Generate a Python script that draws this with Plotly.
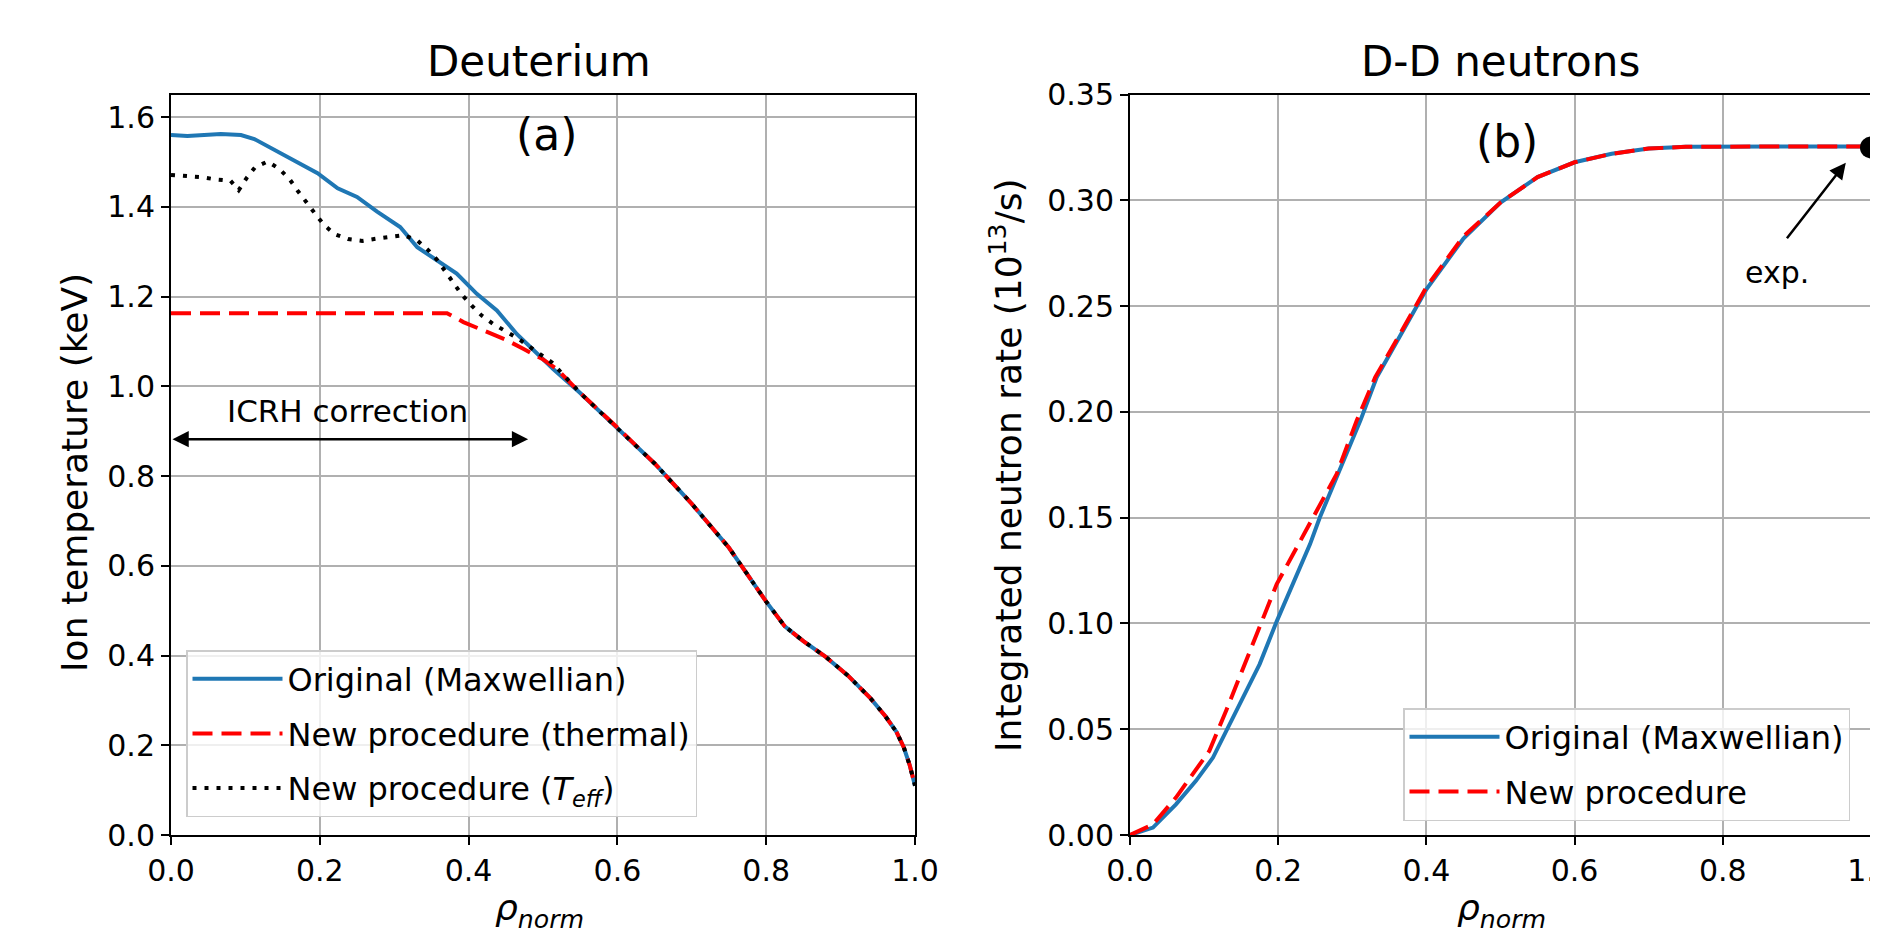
import plotly.graph_objects as go

# ---------------- data: panel (a) Deuterium ion temperature ----------------
rho_orig = [0.0, 0.022, 0.067, 0.094, 0.112, 0.134, 0.165, 0.197, 0.224, 0.25, 0.277, 0.308,
            0.331, 0.358, 0.384, 0.411, 0.438, 0.465, 0.492, 0.514, 0.55, 0.6, 0.65, 0.7, 0.75,
            0.8, 0.825, 0.85, 0.88, 0.91, 0.94, 0.96, 0.975, 0.985, 0.993, 1.0]
ti_orig = [1.560, 1.558, 1.562, 1.560, 1.551, 1.531, 1.504, 1.475, 1.441, 1.422, 1.389, 1.355,
           1.310, 1.281, 1.251, 1.206, 1.169, 1.116, 1.072, 1.038, 0.985, 0.908, 0.828, 0.738,
           0.640, 0.520, 0.465, 0.432, 0.397, 0.355, 0.305, 0.265, 0.230, 0.195, 0.155, 0.110]

rho_thermal = [0.0, 0.371, 0.393, 0.425, 0.451, 0.474, 0.5, 0.519, 0.55, 0.6, 0.65, 0.7, 0.75,
               0.8, 0.825, 0.85, 0.88, 0.91, 0.94, 0.96, 0.975, 0.985, 0.993, 1.0]
ti_thermal = [1.163, 1.163, 1.143, 1.120, 1.103, 1.083, 1.060, 1.038, 0.985, 0.908, 0.828, 0.738,
              0.640, 0.520, 0.465, 0.432, 0.397, 0.355, 0.305, 0.265, 0.230, 0.195, 0.155, 0.110]

rho_teff = [0.0, 0.022, 0.042, 0.06, 0.08, 0.091, 0.102, 0.113, 0.13, 0.146, 0.16, 0.171, 0.182,
            0.194, 0.206, 0.22, 0.238, 0.257, 0.276, 0.294, 0.313, 0.331, 0.346, 0.358, 0.37,
            0.381, 0.391, 0.404, 0.418, 0.433, 0.449, 0.466, 0.482, 0.496, 0.512, 0.55, 0.6,
            0.65, 0.7, 0.75, 0.8, 0.825, 0.85, 0.88, 0.91, 0.94, 0.96, 0.975, 0.985, 0.993, 1.0]
ti_teff = [1.471, 1.469, 1.466, 1.461, 1.458, 1.437, 1.465, 1.488, 1.501, 1.484, 1.460, 1.434,
           1.409, 1.384, 1.359, 1.339, 1.328, 1.324, 1.329, 1.334, 1.337, 1.325, 1.303, 1.281,
           1.254, 1.230, 1.204, 1.180, 1.157, 1.139, 1.124, 1.107, 1.088, 1.072, 1.053, 0.985,
           0.908, 0.828, 0.738, 0.640, 0.520, 0.465, 0.432, 0.397, 0.355, 0.305, 0.265, 0.230,
           0.195, 0.155, 0.110]

# ---------------- data: panel (b) integrated D-D neutron rate ----------------
rho_n_orig = [0.0, 0.031, 0.062, 0.089, 0.112, 0.13, 0.153, 0.175, 0.198, 0.22, 0.243, 0.256,
              0.284, 0.311, 0.333, 0.369, 0.4, 0.45, 0.5, 0.55, 0.6, 0.65, 0.7, 0.75, 0.8,
              0.9, 1.0]
rate_orig = [0.0, 0.0035, 0.0145, 0.0256, 0.0366, 0.049, 0.065, 0.0808, 0.101, 0.1186, 0.1375,
             0.150, 0.173, 0.196, 0.2164, 0.2385, 0.258, 0.282, 0.299, 0.311, 0.318, 0.322,
             0.3245, 0.3253, 0.3255, 0.3255, 0.3255]

rho_n_new = [0.0, 0.031, 0.062, 0.085, 0.107, 0.13, 0.157, 0.175, 0.198, 0.2275, 0.247, 0.279,
             0.306, 0.331, 0.367, 0.4, 0.45, 0.5, 0.55, 0.6, 0.65, 0.7, 0.75, 0.8, 0.9, 1.0]
rate_new = [0.0, 0.005, 0.0177, 0.0287, 0.0397, 0.059, 0.083, 0.099, 0.1186, 0.1375, 0.150,
            0.1707, 0.196, 0.2164, 0.2385, 0.259, 0.283, 0.299, 0.311, 0.318, 0.322, 0.3245,
            0.3253, 0.3255, 0.3255, 0.3255]

exp_rho = [1.0]
exp_rate = [0.325]

x_ticks = [0.0, 0.2, 0.4, 0.6, 0.8, 1.0]
ya_ticks = [0.0, 0.2, 0.4, 0.6, 0.8, 1.0, 1.2, 1.4, 1.6]
yb_ticks = [0.0, 0.05, 0.10, 0.15, 0.20, 0.25, 0.30, 0.35]

# ---------------- styling ----------------
# page has an 8px body margin: figure is 1870x920 placed at (8, 8)
FW, FH = 1870, 920
OFF = 8


def px(p):
    return (p - OFF) / FW


def py(p):
    return 1 - (p - OFF) / FH


FONT = "DejaVu Sans"
BLUE = "#1f77b4"
RED = "#ff0000"
GRID = "#b0b0b0"

fig = go.Figure()

fig.add_trace(go.Scatter(x=rho_orig, y=ti_orig, mode="lines", name="Original (Maxwellian)",
                         line=dict(color=BLUE, width=4), xaxis="x", yaxis="y",
                         legend="legend", legendgroup="a1"))
fig.add_trace(go.Scatter(x=rho_thermal, y=ti_thermal, mode="lines", name="New procedure (thermal)",
                         line=dict(color=RED, width=4, dash="20px,9px"), xaxis="x", yaxis="y",
                         legend="legend", legendgroup="a2"))
fig.add_trace(go.Scatter(x=rho_teff, y=ti_teff, mode="lines",
                         name="New procedure (<i>T<sub>eff</sub></i>)",
                         line=dict(color="black", width=4, dash="4px,8px"), xaxis="x", yaxis="y",
                         legend="legend", legendgroup="a3"))

fig.add_trace(go.Scatter(x=rho_n_orig, y=rate_orig, mode="lines", name="Original (Maxwellian)",
                         line=dict(color=BLUE, width=4), xaxis="x2", yaxis="y2",
                         legend="legend2", legendgroup="b1"))
fig.add_trace(go.Scatter(x=rho_n_new, y=rate_new, mode="lines", name="New procedure",
                         line=dict(color=RED, width=4, dash="20px,9px"), xaxis="x2", yaxis="y2",
                         legend="legend2", legendgroup="b2"))
fig.add_trace(go.Scatter(x=exp_rho, y=exp_rate, mode="markers", showlegend=False,
                         marker=dict(color="black", size=22), cliponaxis=False,
                         xaxis="x2", yaxis="y2"))

axis_common = dict(showline=True, mirror=True, linecolor="black", linewidth=2,
                   ticks="outside", ticklen=8, tickwidth=2, tickcolor="black",
                   showgrid=True, gridcolor=GRID, gridwidth=1.5, zeroline=False,
                   automargin=False, ticklabeloverflow="allow",
                   tickfont=dict(family=FONT, size=30, color="black"))

legend_common = dict(xanchor="left", yanchor="top",
                     bgcolor="rgba(255,255,255,0.8)", bordercolor="#cccccc", borderwidth=1.5,
                     font=dict(family=FONT, size=32, color="black"), itemwidth=90,
                     tracegroupgap=10)

fig.update_layout(
    width=FW, height=FH,
    margin=dict(l=0, r=0, t=0, b=0, autoexpand=False),
    paper_bgcolor="white", plot_bgcolor="white",
    font=dict(family=FONT, color="black"),
    xaxis=dict(domain=[px(171), px(915)], range=[0, 1], tickvals=x_ticks, tickformat=".1f",
               anchor="y", **axis_common),
    yaxis=dict(domain=[py(835), py(94.6)], range=[0, 1.65], tickvals=ya_ticks, tickformat=".1f",
               anchor="x", **axis_common),
    xaxis2=dict(domain=[px(1130), px(1871)], range=[0, 1], tickvals=x_ticks, tickformat=".1f",
                anchor="y2", **axis_common),
    yaxis2=dict(domain=[py(835), py(94.6)], range=[0, 0.35], tickvals=yb_ticks,
                tickformat=".2f", anchor="x2", **axis_common),
    legend=dict(x=px(186), y=py(650), **legend_common),
    legend2=dict(x=px(1403), y=py(708), **legend_common),
    showlegend=True,
)

C = dict(xanchor="center", yanchor="middle", showarrow=False)
ann = []
# titles
ann.append(dict(text="Deuterium", x=px(539), y=py(62), xref="paper", yref="paper",
                font=dict(size=42), **C))
ann.append(dict(text="D-D neutrons", x=px(1500), y=py(62), xref="paper", yref="paper",
                font=dict(size=42), **C))
# axis titles
ann.append(dict(text="Ion temperature (keV)", x=px(74), y=py(473), xref="paper",
                yref="paper", textangle=-90, font=dict(size=36), **C))
ann.append(dict(text="Integrated neutron rate (10<sup>13</sup>/s)", x=px(1006), y=py(465),
                xref="paper", yref="paper", textangle=-90, font=dict(size=36), **C))
ann.append(dict(text="<i>ρ<sub>norm</sub></i>", x=px(539), y=py(910), xref="paper",
                yref="paper", font=dict(size=36), **C))
ann.append(dict(text="<i>ρ<sub>norm</sub></i>", x=px(1501), y=py(910), xref="paper",
                yref="paper", font=dict(size=36), **C))
# panel labels
ann.append(dict(text="(a)", x=0.505, y=1.56, xref="x", yref="y", font=dict(size=44), **C))
ann.append(dict(text="(b)", x=0.509, y=0.328, xref="x2", yref="y2", font=dict(size=44), **C))
# ICRH correction
ann.append(dict(text="ICRH correction", x=0.237, y=0.945, xref="x", yref="y",
                font=dict(size=31), **C))
ann.append(dict(text="", x=0.48, y=0.882, ax=0.0, ay=0.882, xref="x", yref="y",
                axref="x", ayref="y", showarrow=True, arrowhead=2, startarrowhead=2,
                arrowside="end+start", arrowsize=1.3, startarrowsize=1.3, arrowwidth=2.5,
                arrowcolor="black", standoff=0, startstandoff=0))
# exp. arrow
ann.append(dict(text="", x=0.966, y=0.3178, ax=0.885, ay=0.2814, xref="x2", yref="y2",
                axref="x2", ayref="y2", showarrow=True, arrowhead=2, arrowsize=1.3,
                arrowwidth=2.5, arrowcolor="black", standoff=0))
ann.append(dict(text="exp.", x=0.873, y=0.2658, xref="x2", yref="y2", font=dict(size=30), **C))

fig.update_layout(annotations=ann)

fig.write_html("out.html")
